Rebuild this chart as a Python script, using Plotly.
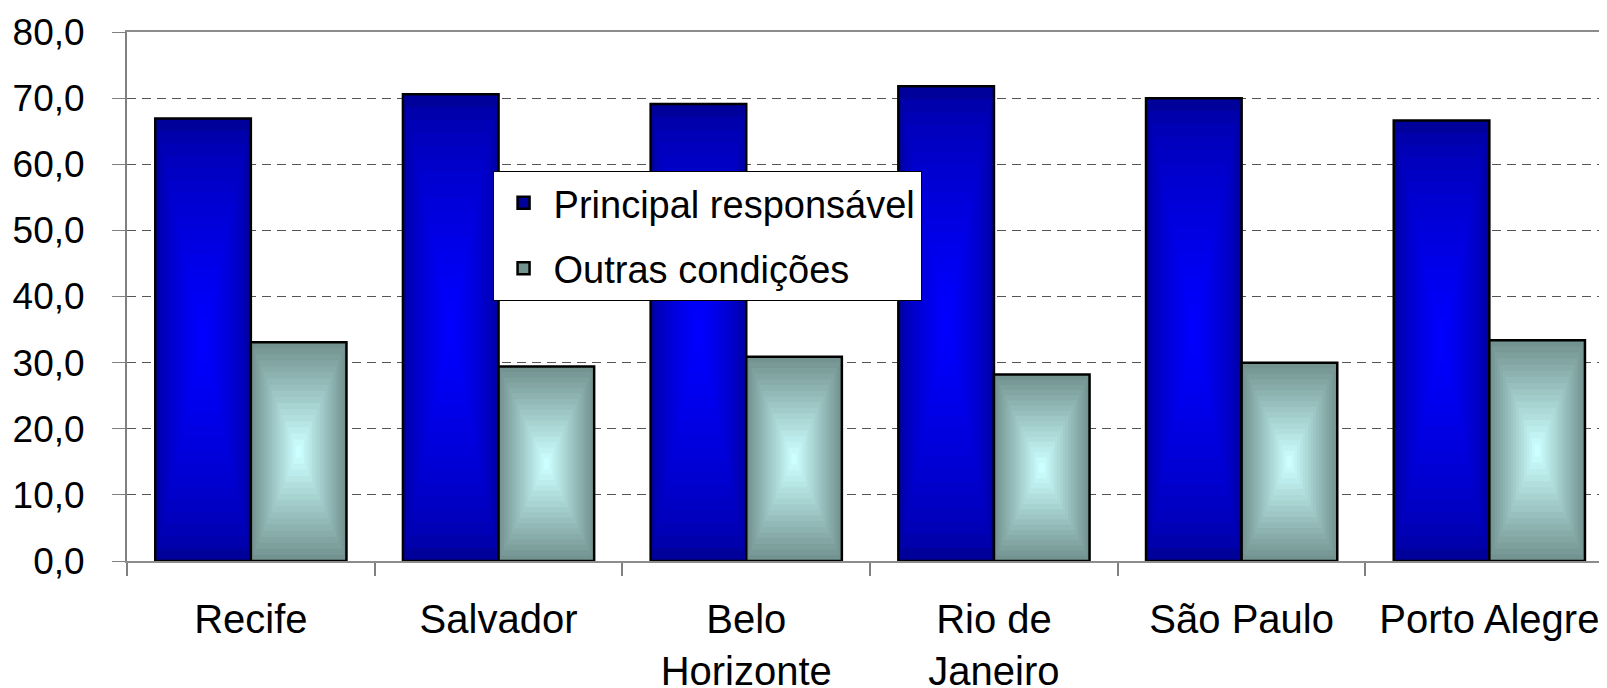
import plotly.graph_objects as go

categories = ["Recife", "Salvador", "Belo<br>Horizonte", "Rio de<br>Janeiro", "São Paulo", "Porto Alegre"]
principal = [66.9, 70.6, 69.1, 71.8, 70.0, 66.6]
outras = [33.1, 29.4, 30.9, 28.2, 30.0, 33.4]
series_names = ["Principal responsável", "Outras condições"]
y_ticks = [0, 10, 20, 30, 40, 50, 60, 70, 80]


def mix(c1, c2, f):
    a = [int(c1[i:i + 2], 16) for i in (1, 3, 5)]
    b = [int(c2[i:i + 2], 16) for i in (1, 3, 5)]
    return "rgb(%d,%d,%d)" % tuple(round(a[j] + (b[j] - a[j]) * f) for j in range(3))


fig = go.Figure()
W = 0.386
N = 18


def add_series(vals, name, offset0, outer, inner, group, gamma):
    for k in range(N):
        t = k / N
        col = mix(outer, inner, (k / (N - 1)) ** gamma)
        fig.add_trace(go.Bar(
            x=categories,
            y=[v * (1 - t) for v in vals],
            base=[v * t / 2 for v in vals],
            width=W * (1 - t),
            offset=offset0 + W * t / 2,
            marker=dict(color=col, line=dict(color="black", width=2.5 if k == 0 else 0)),
            name=name, showlegend=(k == 0), legendgroup=group, hoverinfo="skip",
        ))


add_series(principal, series_names[0], -W, "#00009A", "#0000FF", "a", 0.6)
add_series(outras, series_names[1], 0, "#739390", "#CCFFFF", "b", 1.0)

# The page body has an 8px margin, so the figure is drawn from (8, 8).
fig.update_layout(
    width=1599, height=680,
    margin=dict(l=119, r=0, t=24, b=127),
    paper_bgcolor="white", plot_bgcolor="white",
    barmode="overlay", separators=",.",
    font=dict(family="Liberation Sans, Arial, sans-serif", color="black"),
    legend=dict(x=0.247, y=0.738, xanchor="left", yanchor="top", bgcolor="white",
                bordercolor="black", borderwidth=1, font=dict(size=38),
                tracegroupgap=13, itemwidth=50),
    xaxis=dict(type="category", categoryorder="array", categoryarray=categories,
               range=[-0.5, 5.475], showline=True, linecolor="#8c8c8c", linewidth=2,
               mirror=True, ticks="outside", ticklen=13, tickcolor="#808080", tickwidth=1.5,
               tickson="boundaries", tickfont=dict(size=40), ticklabelstandoff=22,
               showgrid=False, automargin=False),
    yaxis=dict(range=[0, 80], tickvals=y_ticks, tickformat=".1f", showline=True,
               linecolor="#808080", linewidth=2, ticks="outside", ticklen=13,
               tickcolor="#808080", showgrid=True, gridcolor="#555555", griddash="9px,6px",
               gridwidth=1, tickfont=dict(size=37), ticklabelstandoff=20, zeroline=False,
               automargin=False),
)

fig.write_html("out.html")
